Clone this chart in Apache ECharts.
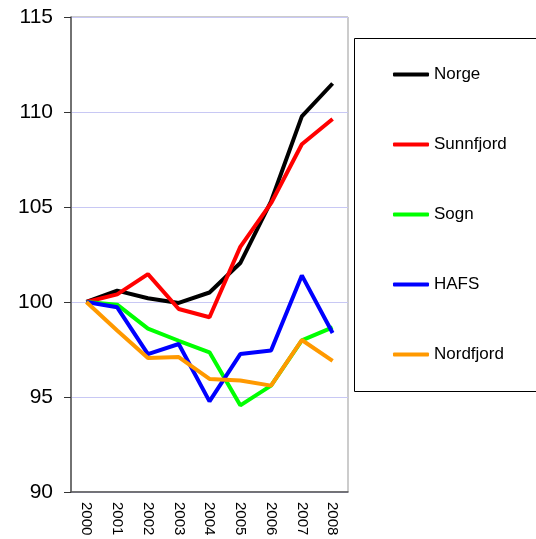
<!DOCTYPE html>
<html>
<head>
<meta charset="utf-8">
<script src="https://cdn.jsdelivr.net/npm/echarts@6/dist/echarts.min.js"></script>
<style>
  html, body { margin: 0; padding: 0; background: #fff; }
  #chart { width: 536px; height: 539px; }
</style>
</head>
<body>
<div id="chart"></div>
<script>
const years = ['2000', '2001', '2002', '2003', '2004', '2005', '2006', '2007', '2008']
const seriesNames = ['Norge', 'Sunnfjord', 'Sogn', 'HAFS', 'Nordfjord']
const norge = [100, 100.6, 100.2, 99.95, 100.5, 102.05, 105.3, 109.77, 111.5]
const sunnfjord = [100, 100.4, 101.47, 99.63, 99.2, 102.9, 105.2, 108.3, 109.63]
const sogn = [100, 99.86, 98.6, 97.96, 97.35, 94.56, 95.6, 97.98, 98.66]
const hafs = [100, 99.72, 97.26, 97.79, 94.77, 97.26, 97.45, 101.4, 98.37]
const nordfjord = [100, 98.5, 97.05, 97.1, 95.95, 95.87, 95.6, 98.0, 96.9]
const colors = ['#000000', '#ff0000', '#00ff00', '#0000ff', '#ff9900']

const font = 'Arial, "Liberation Sans", sans-serif'
const chart = echarts.init(document.getElementById('chart'))

const allData = [norge, sunnfjord, sogn, hafs, nordfjord]

const option = {
  animation: false,
  textStyle: { fontFamily: font, color: '#000' },
  grid: {
    left: 71,
    right: 188,
    top: 17,
    bottom: 47,
    show: true,
    borderColor: '#999',
    borderWidth: 1,
  },
  // legend frame (runs off the right edge like the original)
  graphic: [
    {
      type: 'rect',
      shape: { x: 354.5, y: 38.5, width: 200, height: 353 },
      style: { fill: 'none', stroke: '#000', lineWidth: 1 },
    },
  ],
  legend: {
    orient: 'vertical',
    left: 388,
    top: 61,
    icon: 'roundRect',
    itemWidth: 36,
    itemHeight: 4,
    itemGap: 53,
    data: seriesNames,
    textStyle: { fontSize: 17, color: '#000', fontFamily: font },
  },
  xAxis: {
    type: 'category',
    data: years,
    boundaryGap: true,
    axisLine: { lineStyle: { color: '#555', width: 1.5 } },
    axisTick: { length: 5, lineStyle: { color: '#555' } },
    axisLabel: { rotate: -90, fontSize: 15, color: '#000', margin: 10 },
  },
  yAxis: {
    type: 'value',
    min: 90,
    max: 115,
    interval: 5,
    axisLine: { show: true, lineStyle: { color: '#555', width: 1.5 } },
    axisTick: { show: true, length: 7, lineStyle: { color: '#333' } },
    axisLabel: { fontSize: 21, color: '#000', margin: 18 },
    splitLine: { lineStyle: { color: '#c8c8f4' } },
  },
  series: seriesNames.map((name, i) => ({
    name: name,
    type: 'line',
    data: allData[i],
    symbol: 'none',
    color: colors[i],
    lineStyle: { width: 4, color: colors[i] },
  })),
}

chart.setOption(option)
</script>
</body>
</html>
